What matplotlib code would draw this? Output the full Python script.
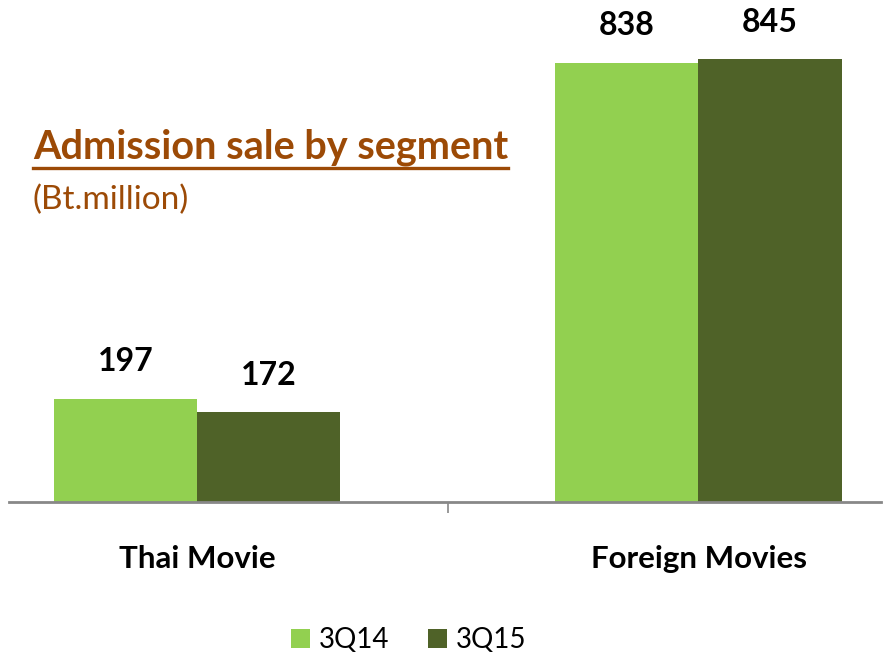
import matplotlib.pyplot as plt
import numpy as np
from matplotlib.lines import Line2D

plt.rcParams['font.family'] = ['Lato', 'DejaVu Sans']

categories = ['Thai Movie', 'Foreign Movies']
series_names = ['3Q14', '3Q15']
sales_3q14 = [197, 838]
sales_3q15 = [172, 845]

light_green = '#92D050'
dark_green = '#4F6228'
brown = '#9C4A06'

fig = plt.figure(figsize=(8.84, 6.63), dpi=100)
ax = fig.add_axes([9 / 884, 161 / 663, 872 / 884, 472 / 663])

x = np.arange(len(categories))
w = 0.286
b1 = ax.bar(x - w / 2, sales_3q14, w, color=light_green, label=series_names[0])
b2 = ax.bar(x + w / 2, sales_3q15, w, color=dark_green, label=series_names[1])

for bars in (b1, b2):
    for rect in bars:
        ax.annotate('%d' % rect.get_height(),
                    (rect.get_x() + rect.get_width() / 2, rect.get_height()),
                    xytext=(0, 16), textcoords='offset points',
                    ha='center', va='bottom', fontsize=23, fontweight='bold')

ax.set_xlim(-0.375, 1.364)
ax.set_ylim(0, 900)
for s in ['top', 'right', 'left']:
    ax.spines[s].set_visible(False)
ax.spines['bottom'].set_color('#888888')
ax.spines['bottom'].set_linewidth(2)
ax.set_yticks([])
ax.set_xticks([0.5])
ax.set_xticklabels([''])
ax.tick_params(axis='x', length=8, width=1.2, color='#888888')

for xi, name in zip(x, categories):
    fig.text((9 + (xi + 0.375) * 501.5) / 884, 1 - 559 / 663, name,
             ha='center', va='center', fontsize=22.5, fontweight='bold')

# title with underline
title = fig.text(33 / 884, 1 - 147 / 663, 'Admission sale by segment',
                 ha='left', va='center', fontsize=28.5, fontweight='bold', color=brown)
fig.text(33 / 884, 1 - 200 / 663, '(Bt.million)',
         ha='left', va='center', fontsize=24, color=brown)
fig.canvas.draw()
bb = title.get_window_extent().transformed(fig.transFigure.inverted())
fig.add_artist(Line2D([bb.x0, bb.x1], [1 - 168 / 663] * 2, color=brown, lw=2.4,
                      transform=fig.transFigure))

fig.legend(handles=[b1, b2], loc='center', bbox_to_anchor=(0.462, 1 - 640 / 663),
           ncol=2, frameon=False, fontsize=20, handlelength=0.7, handleheight=0.7,
           handletextpad=0.3, columnspacing=1.4)

fig.savefig('out.png', dpi=100)
